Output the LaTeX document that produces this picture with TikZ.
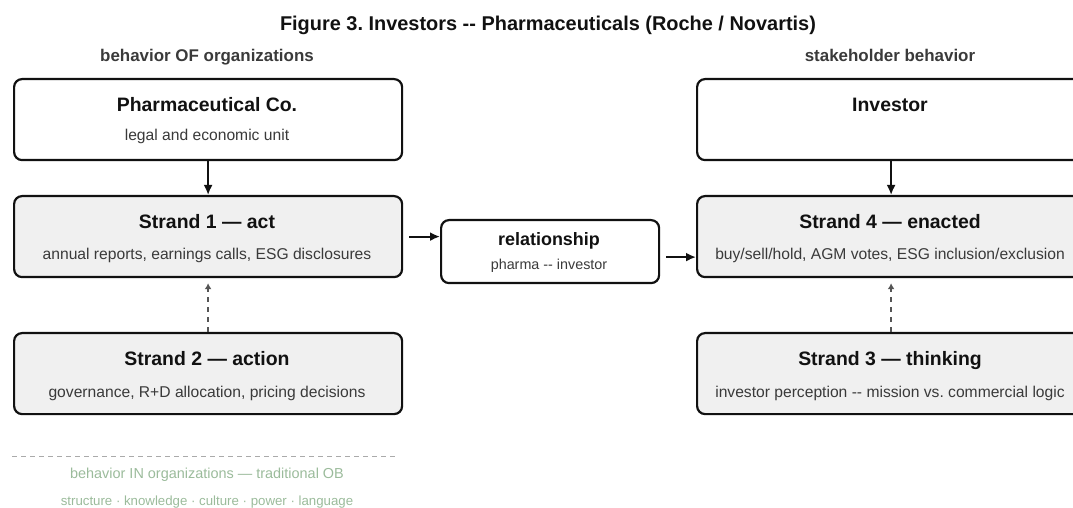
\documentclass[tikz,border=0pt]{standalone}
\usepackage{fontspec}
\setmainfont{Liberation Sans}[Ligatures=TeXOff]
\usetikzlibrary{arrows.meta}
\frenchspacing

\definecolor{ink}{HTML}{111111}
\definecolor{subtext}{HTML}{3A3A3A}
\definecolor{strandfill}{HTML}{F0F0F0}
\definecolor{dashgray}{HTML}{555555}
\definecolor{rulegray}{HTML}{AAAAAA}
\definecolor{obgreen}{HTML}{9BBB9B}

\begin{document}
\begin{tikzpicture}[x=1bp, y=-1bp,
  box/.style={draw=ink, line width=2.2bp, rounded corners=8bp, fill=white,
    minimum width=388bp, minimum height=81bp, inner sep=0pt, anchor=north west},
  strandbox/.style={box, fill=strandfill},
  relbox/.style={box, minimum width=218bp, minimum height=63bp},
  figtitle/.style={font=\fontsize{20}{24}\selectfont\bfseries, text=ink, anchor=base},
  colhead/.style={font=\fontsize{17}{20}\selectfont\bfseries, text=subtext, anchor=base},
  heading/.style={font=\fontsize{19.5}{22}\selectfont\bfseries, text=ink, anchor=base, inner sep=0pt},
  detail/.style={font=\fontsize{15.7}{18}\selectfont, text=subtext, anchor=base, inner sep=0pt},
  relheading/.style={heading, font=\fontsize{18}{21}\selectfont\bfseries},
  reldetail/.style={detail, font=\fontsize{14.4}{17}\selectfont},
  obhead/.style={font=\fontsize{14.5}{17}\selectfont, text=obgreen, anchor=base, inner sep=0pt},
  oblist/.style={font=\fontsize{13.3}{16}\selectfont, text=obgreen, anchor=base, inner sep=0pt},
  flow/.style={draw=ink, line width=2bp, -{Latex[length=10bp, width=9bp]}},
  dashflow/.style={draw=dashgray, line width=2bp, dash pattern=on 5bp off 5bp,
    -{Latex[length=6bp, width=7bp]}},
  divider/.style={draw=rulegray, line width=1bp, dash pattern=on 5bp off 4bp}
]
\path[use as bounding box] (0,0) rectangle (1073,508);
\clip (0,0) rectangle (1073,508);

% title and column headings
\node[figtitle] (fig) at (548,30.5) {Figure 3. Investors -- Pharmaceuticals (Roche / Novartis)};
\node[colhead] (orgcol) at (207,62) {behavior OF organizations};
\node[colhead] (stakecol) at (890,62) {stakeholder behavior};

% organization column
\node[box] (pharma) at (13,78) {};
\node[heading] (pharmaT) at (207,111.5) {Pharmaceutical Co.};
\node[detail] (pharmaD) at (207,141) {legal and economic unit};

\node[strandbox] (s1) at (13,195) {};
\node[heading] (s1T) at (207,228.5) {Strand 1 — act};
\node[detail] (s1D) at (207,260) {annual reports, earnings calls, ESG disclosures};

\node[strandbox] (s2) at (13,332) {};
\node[heading] (s2T) at (207,365.5) {Strand 2 — action};
\node[detail] (s2D) at (207,397) {governance, R+D allocation, pricing decisions};

% relationship
\node[relbox] (rel) at (440,219) {};
\node[relheading] (relT) at (549,246) {relationship};
\node[reldetail] (relD) at (549,270) {pharma -- investor};

% stakeholder column
\node[box] (inv) at (696,78) {};
\node[heading] (invT) at (890,111.5) {Investor};

\node[strandbox] (s4) at (696,195) {};
\node[heading] (s4T) at (890,228.5) {Strand 4 — enacted};
\node[detail] (s4D) at (890,260) {buy/sell/hold, AGM votes, ESG inclusion/exclusion};

\node[strandbox] (s3) at (696,332) {};
\node[heading] (s3T) at (890,365.5) {Strand 3 — thinking};
\node[detail] (s3D) at (890,397) {investor perception -- mission vs. commercial logic};

% connectors
\draw[flow] (pharma.south) -- (s1.north);
\draw[flow] (inv.south) -- (s4.north);
\draw[flow, shorten <=6bp] (s1.east) -- (s1.east -| rel.west);
\draw[flow, shorten <=6bp] ([yshift=-5.5bp]rel.east) -- ([yshift=-5.5bp]rel.east -| s4.west);
\draw[dashflow] (s2.north) -- ([yshift=-5bp]s1.south);
\draw[dashflow] (s3.north) -- ([yshift=-5bp]s4.south);

% traditional OB footer
\coordinate (ruleL) at (12,456);
\coordinate (ruleR) at (398,456);
\draw[divider] (ruleL) -- (ruleR);
\node[obhead] (obT) at (207,478.3) {behavior IN organizations — traditional OB};
\node[oblist] (obL) at (207,505) {structure · knowledge · culture · power · language};
\end{tikzpicture}
\end{document}
